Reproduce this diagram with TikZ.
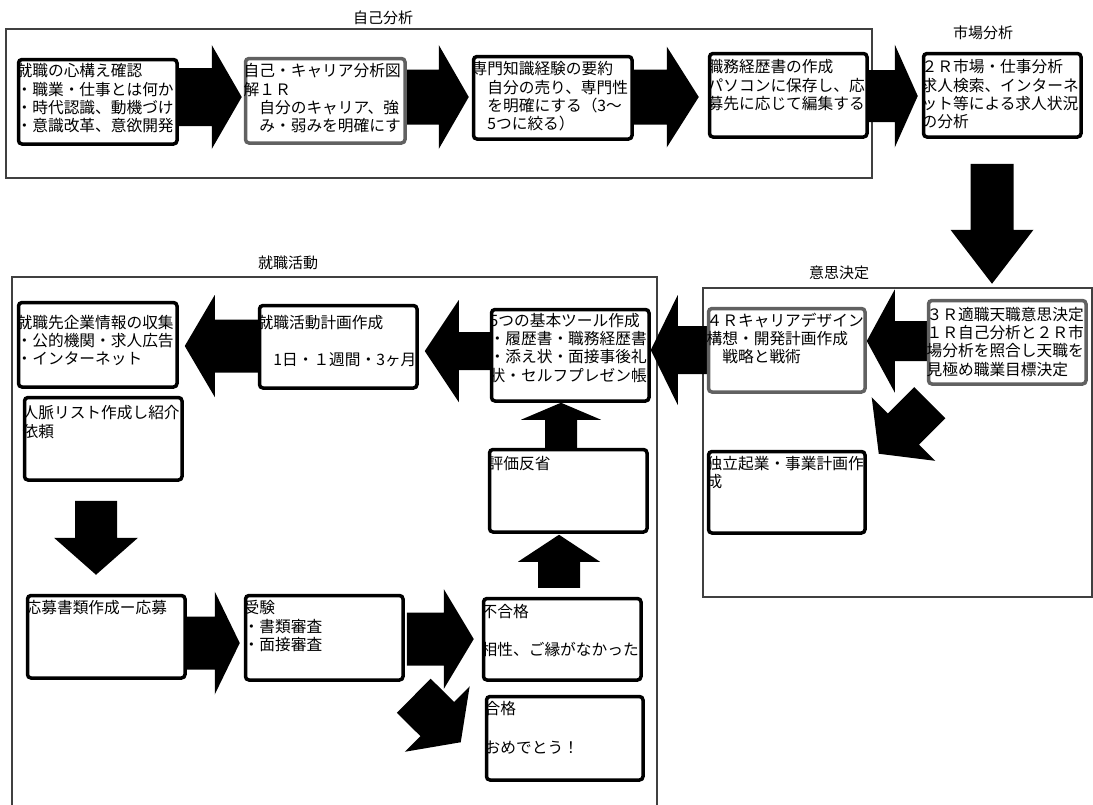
\documentclass[tikz,border=0pt]{standalone}
\usepackage{fontspec}
\newfontfamily\jp{Noto Sans CJK JP}
\usetikzlibrary{calc,backgrounds}
\tikzset{
  frame/.style={draw=black!75, line width=1.2pt},
  boxk/.style={draw=black, line width=3.5pt, rounded corners=3.5pt, fill=white, inner sep=0pt},
  boxg/.style={boxk, draw=black!62},
  txt/.style={inner sep=0pt, anchor=north west, align=left, font=\jp\fontsize{15.7}{18.3}\selectfont},
  lbl/.style={inner sep=0pt, font=\jp\fontsize{15}{18}\selectfont},
  barrow/.style n args={3}{to path={let \p1=(\tikztostart), \p2=(\tikztotarget),
    \n1={veclen(\x2-\x1,\y2-\y1)}, \n2={(\x2-\x1)/\n1}, \n3={(\y2-\y1)/\n1} in
    ({\x1-#1*\n3},{\y1+#1*\n2})
    -- ({\x1+(\n1-#3)*\n2-#1*\n3},{\y1+(\n1-#3)*\n3+#1*\n2})
    -- ({\x1+(\n1-#3)*\n2-#2*\n3},{\y1+(\n1-#3)*\n3+#2*\n2})
    -- (\p2)
    -- ({\x1+(\n1-#3)*\n2+#2*\n3},{\y1+(\n1-#3)*\n3-#2*\n2})
    -- ({\x1+(\n1-#3)*\n2+#1*\n3},{\y1+(\n1-#3)*\n3-#1*\n2})
    -- ({\x1+#1*\n3},{\y1-#1*\n2}) -- cycle}},
}
% style, name, x0, y0, x1, y1, text dy, text
\newcommand\tbox[8][boxk]{%
  \node[#1, minimum width={#5-#3-3.5}, minimum height={#6-#4-3.5}, anchor=north west] (#2) at ({#3+1.75},{#4+1.75}) {};
  \node[txt] (#2t) at ({#3+1.5},{#4+7+#7}) {\rule{0pt}{14.5pt}#8};
}
\begin{document}
\begin{tikzpicture}[x=1pt,y=-1pt]
\useasboundingbox (0,0) rectangle (1093,804);
% labels
\node[lbl] (l1) at (383,18) {自己分析};
\node[lbl] (l2) at (983,33) {市場分析};
\node[lbl] (l3) at (839,273) {意思決定};
\node[lbl] (l4) at (288,263) {就職活動};
% boxes
\tbox{b1}{15}{56}{177}{144}{-1}{就職の心構え確認\\・職業・仕事とは何か\\・時代認識、動機づけ\\・意識改革、意欲開発}
\tbox[boxg]{b2}{242}{55}{405}{143}{0}{自己・キャリア分析図\\解１Ｒ\\　自分のキャリア、強\\　み・弱みを明確にす}
\tbox{b3}{470}{53}{632}{139}{0}{専門知識経験の要約\\　自分の売り、専門性\\　を明確にする（3～\\　5つに絞る）}
\tbox{b4}{706}{50}{867}{137}{1}{職務経歴書の作成\\パソコンに保存し、応\\募先に応じて編集する}
\tbox{b5}{920}{50}{1081}{137}{1}{２Ｒ市場・仕事分析\\求人検索、インターネ\\ット等による求人状況\\の分析}
\tbox[boxg]{b3R}{925}{297}{1086}{384}{1.5}{３Ｒ適職天職意思決定\\１Ｒ自己分析と２Ｒ市\\場分析を照合し天職を\\見極め職業目標決定}
\tbox[boxg]{b4R}{705}{305}{865}{392}{-0.5}{４Ｒキャリアデザイン\\構想・開発計画作成\\　戦略と戦術}
\tbox{bind}{705}{448}{865}{533}{-0.5}{独立起業・事業計画作\\成}
\tbox{btool}{488}{306}{649}{401}{-1.5}{5つの基本ツール作成\\・履歴書・職務経歴書\\・添え状・面接事後礼\\状・セルフプレゼン帳}
\tbox{bplan}{256}{302}{417}{388}{5}{就職活動計画作成\\[18pt]　1日・１週間・3ヶ月}
\tbox{binfo}{15}{299}{177}{387}{7.5}{就職先企業情報の収集\\・公的機関・求人広告\\・インターネット}
\tbox{bnet}{21}{394}{182}{480}{3}{人脈リスト作成し紹介\\依頼}
\tbox{beval}{486}{446}{647}{532}{1.5}{評価反省}
\tbox{bapp}{24}{592}{185}{678}{0}{応募書類作成ー応募}
\tbox{bexam}{242}{592}{403}{680}{0}{受験\\・書類審査\\・面接審査}
\tbox{bfail}{480}{595}{641}{680}{0.5}{不合格\\[20pt]相性、ご縁がなかった}
\tbox{bpass}{483}{693}{643}{780}{-0.5}{合格\\[21pt]おめでとう！}
\begin{scope}[on background layer]
  \fill[white] (0,0) rectangle (1093,804);
  \draw[frame] (6,29) rectangle (872,178);
  \draw[frame] (703,288) rectangle (1092,597);
  \draw[frame] (12,806) -- (12,277) -- (657,277) -- (657,806);
  % block arrows
  \fill (b1.east |- 0,97) to[barrow={29}{52}{30}] ($(b2.west |- 0,97)+(-2,0)$);
  \fill (b2.east |- 0,97) to[barrow={27.5}{52}{30}] ($(b3.west |- 0,97)+(-3,0)$);
  \fill (b3.east |- 0,97) to[barrow={27.5}{50.5}{32}] ($(b4.west |- 0,97)+(-9,0)$);
  \fill (b4.east |- 0,96) to[barrow={26}{51.5}{23}] ($(b5.west |- 0,96)+(-4,0)$);
  \fill ($(b5.south -| 992,0)+(0,25)$) to[barrow={21.5}{41.5}{54}] ($(b3R.north -| 992,0)+(0,-15)$);
  \fill (b3R.west |- 0,341) to[barrow={20}{51.5}{28}] (b4R.east |- 0,341);
  \fill (b4R.west |- 0,350) to[barrow={24}{55}{27}] (btool.east |- 0,350);
  \fill (btool.west |- 0,351) to[barrow={19}{51}{34}] ($(bplan.east |- 0,351)+(6,0)$);
  \fill (bplan.west |- 0,346) to[barrow={26.5}{51}{30}] ($(binfo.east |- 0,346)+(6,0)$);
  \fill ($(bnet.south -| 96,0)+(0,19)$) to[barrow={21}{42}{37}] ($(bapp.north -| 96,0)+(0,-19)$);
  \fill (bapp.east |- 0,643) to[barrow={26.5}{51.5}{25}] ($(bexam.west |- 0,643)+(-4,0)$);
  \fill ($(bexam.east |- 0,639)+(2,0)$) to[barrow={26.5}{50}{30}] ($(bfail.west |- 0,639)+(-8,0)$);
  \fill ($(bexam.south east)+(9,14)$) to[barrow={24}{46}{33}] ($(bpass.west)+(-24,4)$);
  \fill ($(b3R.south west)+(3,17)$) to[barrow={22}{45}{35}] ($(bind.north east)+(12,4)$);
  \fill ($(bfail.north -| 559,0)+(0,-9)$) to[barrow={21}{41}{27}] ($(beval.south -| 559,0)+(0,1)$);
  \fill (beval.north -| 561,0) to[barrow={16}{40}{17}] (btool.south -| 561,0);
\end{scope}
\end{tikzpicture}
\end{document}
